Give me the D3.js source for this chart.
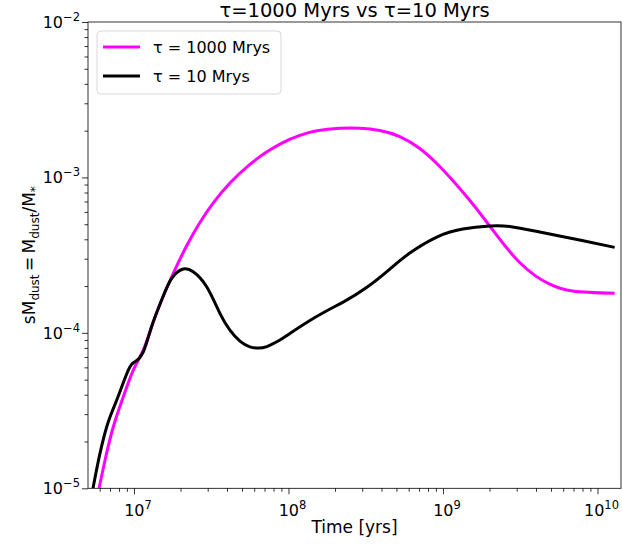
<!DOCTYPE html>
<html>
<head>
<meta charset="utf-8">
<script src="https://cdn.jsdelivr.net/npm/d3@7"></script>
<style>
  html, body { margin: 0; padding: 0; background: #fff; }
  svg { display: block; font-family: "DejaVu Sans", sans-serif; }
</style>
</head>
<body>
<svg id="chart" width="622" height="546"></svg>
<script>
// Specific dust mass for two star-formation timescales
const timeSlow = [5.94e6, 6.5e6, 7.35e6, 8.53e6, 9.9e6, 1.149e7, 1.30e7, 1.51e7, 1.796e7, 2.202e7,
  2.673e7, 3.243e7, 4.18e7, 5.63e7, 7.25e7, 9.2e7, 1.185e8, 1.527e8, 2.15e8, 2.897e8,
  3.9e8, 5.255e8, 7.08e8, 9.535e8, 1.284e9, 1.606e9, 2.008e9, 2.575e9, 3.14e9, 3.925e9,
  4.91e9, 6.91e9, 1.292e10];
const dustSlow = [1.0e-5, 1.52e-5, 2.49e-5, 3.88e-5, 5.76e-5, 7.75e-5, 1.095e-4, 1.626e-4, 2.415e-4, 3.662e-4,
  5.127e-4, 6.80e-4, 9.20e-4, 1.213e-3, 1.461e-3, 1.677e-3, 1.864e-3, 1.995e-3, 2.070e-3, 2.073e-3,
  2.004e-3, 1.833e-3, 1.535e-3, 1.175e-3, 8.485e-4, 6.496e-4, 4.867e-4, 3.54e-4, 2.834e-4, 2.344e-4,
  2.06e-4, 1.858e-4, 1.796e-4];

const timeFast = [5.43e6, 6.03e6, 6.82e6, 7.73e6, 9.19e6, 1.015e7, 1.149e7, 1.30e7, 1.51e7, 1.754e7,
  2.084e7, 2.418e7, 2.954e7, 3.6e7, 4.178e7, 4.85e7, 5.63e7, 6.34e7, 7.25e7, 8.8e7,
  1.021e8, 1.52e8, 2.26e8, 3.2e8, 4.53e8, 6.1e8, 9.12e8, 1.343e9, 2.01e9, 2.705e9,
  4.23e9, 7.67e9, 1.292e10];
const dustFast = [1.0e-5, 1.684e-5, 2.68e-5, 3.69e-5, 5.76e-5, 6.52e-5, 7.56e-5, 1.095e-4, 1.626e-4, 2.24e-4,
  2.574e-4, 2.47e-4, 1.98e-4, 1.335e-4, 1.042e-4, 8.856e-5, 8.128e-5, 7.98e-5, 8.164e-5, 8.99e-5,
  9.90e-5, 1.273e-4, 1.578e-4, 1.956e-4, 2.574e-4, 3.262e-4, 4.134e-4, 4.656e-4, 4.87e-4, 4.83e-4,
  4.453e-4, 3.96e-4, 3.55e-4];

const seriesNames = ["\u03c4 = 1000 Mrys", "\u03c4 = 10 Mrys"];
const seriesColors = ["#ff00ff", "#000000"];

const xTickExps = [7, 8, 9, 10];
const yTickExps = [-5, -4, -3, -2];

const margin = { left: 88, right: 1, top: 22, bottom: 57.7 };
const W = 622, H = 546;

const svg = d3.select("#chart");

const x = d3.scaleLog().domain([5.04e6, 1.42e10]).range([margin.left, W - margin.right]);
const y = d3.scaleLog().domain([1e-5, 1e-2]).range([H - margin.bottom, margin.top]);

const [x0, x1] = x.range();
const [y0, y1] = y.range();

// clip for the data lines
svg.append("defs").append("clipPath").attr("id", "plot-clip")
  .append("rect").attr("x", x0).attr("y", y1).attr("width", x1 - x0).attr("height", y0 - y1);

// minor tick values for log axes
function minorTicks(scale) {
  const [a, b] = scale.domain();
  const out = [];
  for (let e = Math.floor(Math.log10(a)); e <= Math.ceil(Math.log10(b)); e++) {
    for (let m = 2; m <= 9; m++) {
      const v = m * Math.pow(10, e);
      if (v >= a && v <= b) out.push(v);
    }
  }
  return out;
}

const axisStyle = g => {
  g.select(".domain").remove();
  g.selectAll(".tick line").attr("stroke", "#000").attr("stroke-width", 0.8);
};

// x axis: major and minor ticks
svg.append("g").attr("transform", `translate(0,${y0})`)
  .call(d3.axisBottom(x).tickValues(xTickExps.map(e => Math.pow(10, e))).tickSize(6).tickFormat(""))
  .call(axisStyle);
svg.append("g").attr("transform", `translate(0,${y0})`)
  .call(d3.axisBottom(x).tickValues(minorTicks(x)).tickSize(3.5).tickFormat(""))
  .call(axisStyle);

// y axis: major and minor ticks
svg.append("g").attr("transform", `translate(${x0},0)`)
  .call(d3.axisLeft(y).tickValues(yTickExps.map(e => Math.pow(10, e))).tickSize(6).tickFormat(""))
  .call(axisStyle);
svg.append("g").attr("transform", `translate(${x0},0)`)
  .call(d3.axisLeft(y).tickValues(minorTicks(y)).tickSize(3.5).tickFormat(""))
  .call(axisStyle);

// tick labels as 10 with a superscript exponent
const tickFont = 16;
xTickExps.forEach(e => {
  const t = svg.append("text")
    .attr("x", x(Math.pow(10, e)) + 4)
    .attr("y", y0 + 28)
    .attr("text-anchor", "middle")
    .attr("font-size", tickFont)
    .attr("fill", "#000");
  t.append("tspan").text("10");
  t.append("tspan").attr("dy", -7).attr("font-size", 11.5).text(String(e));
});
yTickExps.forEach(e => {
  const t = svg.append("text")
    .attr("x", x0 - 8)
    .attr("y", y(Math.pow(10, e)) + 6)
    .attr("text-anchor", "end")
    .attr("font-size", tickFont)
    .attr("fill", "#000");
  t.append("tspan").text("10");
  t.append("tspan").attr("dy", -7).attr("font-size", 11.5).text("\u2212" + (-e));
});

// spines
svg.append("rect")
  .attr("x", x0).attr("y", y1).attr("width", x1 - x0).attr("height", y0 - y1)
  .attr("fill", "none").attr("stroke", "#000").attr("stroke-width", 0.8);

// data lines
const line = d3.line()
  .x(d => x(d[0]))
  .y(d => y(d[1]))
  .curve(d3.curveNatural);

const plot = svg.append("g").attr("clip-path", "url(#plot-clip)");
const series = [
  d3.zip(timeSlow, dustSlow),
  d3.zip(timeFast, dustFast)
];
series.forEach((pts, i) => {
  plot.append("path")
    .datum(pts)
    .attr("d", line)
    .attr("fill", "none")
    .attr("stroke", seriesColors[i])
    .attr("stroke-width", 3)
    .attr("stroke-linejoin", "round")
    .attr("stroke-linecap", "butt");
});

// title
svg.append("text")
  .attr("x", (x0 + x1) / 2)
  .attr("y", 17)
  .attr("text-anchor", "middle")
  .attr("font-size", 19.5)
  .attr("fill", "#000")
  .text("\u03c4=1000 Myrs vs \u03c4=10 Myrs");

// axis labels
svg.append("text")
  .attr("x", (x0 + x1) / 2)
  .attr("y", 533)
  .attr("text-anchor", "middle")
  .attr("font-size", 17)
  .attr("fill", "#000")
  .text("Time [yrs]");

const yl = svg.append("text")
  .attr("transform", `translate(35,${(y0 + y1) / 2}) rotate(-90)`)
  .attr("text-anchor", "middle")
  .attr("font-size", 17)
  .attr("fill", "#000");
yl.append("tspan").text("sM");
yl.append("tspan").attr("dy", 4).attr("font-size", 12).text("dust");
yl.append("tspan").attr("dy", -4).text("\u2009=\u2009M");
yl.append("tspan").attr("dy", 4).attr("font-size", 12).text("dust");
yl.append("tspan").attr("dy", -4).text("/M");
yl.append("tspan").attr("dy", 4).attr("font-size", 12).text("*");

// legend
const legend = svg.append("g").attr("transform", `translate(${x0 + 9},${y1 + 9})`);
legend.append("rect")
  .attr("width", 184).attr("height", 63).attr("rx", 4)
  .attr("fill", "#fff").attr("fill-opacity", 0.8)
  .attr("stroke", "#d9d9d9").attr("stroke-width", 1);
seriesNames.forEach((name, i) => {
  const gy = 16 + i * 29;
  legend.append("line")
    .attr("x1", 6).attr("x2", 43).attr("y1", gy).attr("y2", gy)
    .attr("stroke", seriesColors[i]).attr("stroke-width", 3);
  legend.append("text")
    .attr("x", 56).attr("y", gy + 6)
    .attr("font-size", 16)
    .attr("fill", "#000")
    .text(name);
});
</script>
</body>
</html>
